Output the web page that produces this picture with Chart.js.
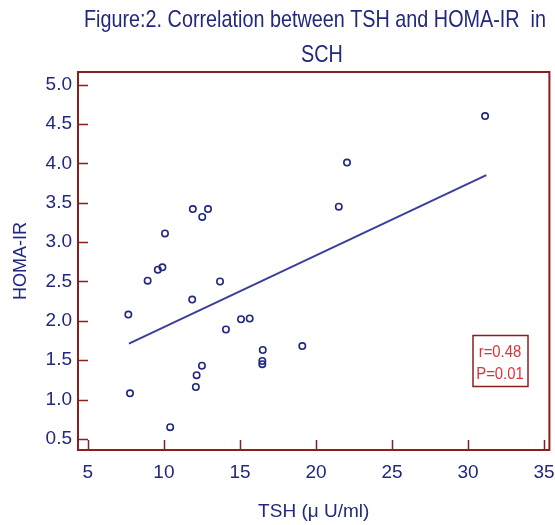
<!DOCTYPE html>
<html>
<head>
<meta charset="utf-8">
<script src="https://cdn.jsdelivr.net/npm/chart.js@4.4.1/dist/chart.umd.min.js"></script>
<style>
  html, body { margin: 0; padding: 0; background: #fff; }
  #wrap { width: 555px; height: 525px; }
</style>
</head>
<body>
<div id="wrap"><canvas id="tshChart" width="555" height="525"></canvas></div>
<script>
// data
const tsh  = [7.66, 7.77, 8.93, 9.6, 9.9, 10.07, 10.41, 11.86, 11.9, 12.1, 12.15, 12.5, 12.52, 12.9, 13.69, 14.08, 15.07, 15.64, 16.47, 16.47, 16.5, 19.1, 21.5, 22.04, 31.12];
const homa = [2.08, 1.08, 2.51, 2.65, 2.68, 3.11, 0.65, 2.27, 3.42, 1.16, 1.31, 1.43, 3.32, 3.42, 2.50, 1.89, 2.02, 2.03, 1.45, 1.49, 1.63, 1.68, 3.45, 4.01, 4.60];
const fitX = [7.7, 31.2];
const fitY = [1.71, 3.85];
const xTicks = [5, 10, 15, 20, 25, 30, 35];
const yTicks = [0.5, 1.0, 1.5, 2.0, 2.5, 3.0, 3.5, 4.0, 4.5, 5.0];
const titleLines = ["Figure:2. Correlation between TSH and HOMA-IR  in", "SCH"];
const statLines = ["r=0.48", "P=0.01"];

const navy = "#22287f";
const frameRed = "#8a1f1f";
const baseFont = "'Liberation Sans', Arial, sans-serif";

// draw text squeezed horizontally (the original uses a narrow face)
function narrowText(ctx, text, cx, cy, sx) {
    ctx.save();
    ctx.translate(cx, cy);
    ctx.scale(sx, 1);
    ctx.fillText(text, 0, 0);
    ctx.restore();
}

// frame, inward ticks, title, stat box
const decor = {
    id: "decor",
    afterDraw(chart) {
        const ctx = chart.ctx;
        const a = chart.chartArea;
        const xs = chart.scales.x, ys = chart.scales.y;
        ctx.save();
        ctx.strokeStyle = frameRed;
        ctx.lineWidth = 2;
        ctx.strokeRect(a.left, a.top, a.right - a.left, a.bottom - a.top);
        ctx.beginPath();
        xTicks.forEach(v => {
            const px = Math.round(xs.getPixelForValue(v)) + 0.5;
            ctx.moveTo(px, a.bottom);
            ctx.lineTo(px, a.bottom - 10);
        });
        yTicks.forEach(v => {
            const py = Math.round(ys.getPixelForValue(v)) + 0.5;
            ctx.moveTo(a.left, py);
            ctx.lineTo(a.left + 10, py);
        });
        ctx.lineWidth = 1.5;
        ctx.stroke();

        // title
        ctx.fillStyle = navy;
        ctx.font = "24px " + baseFont;
        ctx.textAlign = "center";
        ctx.textBaseline = "middle";
        const sx = 462 / ctx.measureText(titleLines[0]).width;
        narrowText(ctx, titleLines[0], 315, 20, sx);
        narrowText(ctx, titleLines[1], 322, 55, sx);

        // stat box
        ctx.strokeStyle = frameRed;
        ctx.lineWidth = 1.5;
        ctx.strokeRect(473, 335.5, 55, 51);
        ctx.fillStyle = "#e0303c";
        ctx.font = "16px " + baseFont;
        ctx.textAlign = "center";
        narrowText(ctx, statLines[0], 500, 353, 0.93);
        narrowText(ctx, statLines[1], 500, 375, 0.93);
        ctx.restore();
    }
};

new Chart(document.getElementById("tshChart"), {
    type: "scatter",
    data: {
        datasets: [
            {
                label: "HOMA-IR",
                data: tsh.map((x, i) => ({ x: x, y: homa[i] })),
                pointStyle: "circle",
                pointRadius: 3.2,
                pointBorderWidth: 1.6,
                borderColor: navy,
                backgroundColor: "rgba(255,255,255,0)",
                showLine: false
            },
            {
                label: "fit",
                type: "line",
                data: fitX.map((x, i) => ({ x: x, y: fitY[i] })),
                borderColor: "#3a3e9c",
                borderWidth: 2,
                pointRadius: 0,
                fill: false
            }
        ]
    },
    options: {
        responsive: false,
        animation: false,
        layout: { padding: { left: 0, right: 3, top: 72, bottom: 0 } },
        plugins: {
            legend: { display: false },
            tooltip: { enabled: false },
            title: { display: false }
        },
        scales: {
            x: {
                type: "linear",
                min: 4.35,
                max: 35.35,
                afterBuildTicks: s => { s.ticks = xTicks.map(v => ({ value: v })); },
                afterFit: s => { s.height = 75; s.paddingLeft = 0; s.paddingRight = 0; },
                grid: { display: false, drawTicks: false },
                border: { display: false },
                ticks: {
                    color: navy,
                    font: { family: baseFont, size: 19 },
                    padding: 11,
                    maxRotation: 0
                },
                title: {
                    display: true,
                    text: "TSH (\u03bc U/ml)",
                    color: navy,
                    font: { family: baseFont, size: 19 },
                    padding: { top: 4, bottom: 2 }
                }
            },
            y: {
                min: 0.36,
                max: 5.16,
                afterBuildTicks: s => { s.ticks = yTicks.map(v => ({ value: v })); },
                afterFit: s => { s.width = 78; s.paddingTop = 0; s.paddingBottom = 0; },
                grid: { display: false, drawTicks: false },
                border: { display: false },
                ticks: {
                    color: navy,
                    font: { family: baseFont, size: 19 },
                    padding: 6,
                    callback: v => Number(v).toFixed(1)
                },
                title: {
                    display: true,
                    text: "HOMA-IR",
                    color: navy,
                    font: { family: baseFont, size: 18 },
                    padding: { top: 10, bottom: 0 }
                }
            }
        }
    },
    plugins: [decor]
});
</script>
</body>
</html>
